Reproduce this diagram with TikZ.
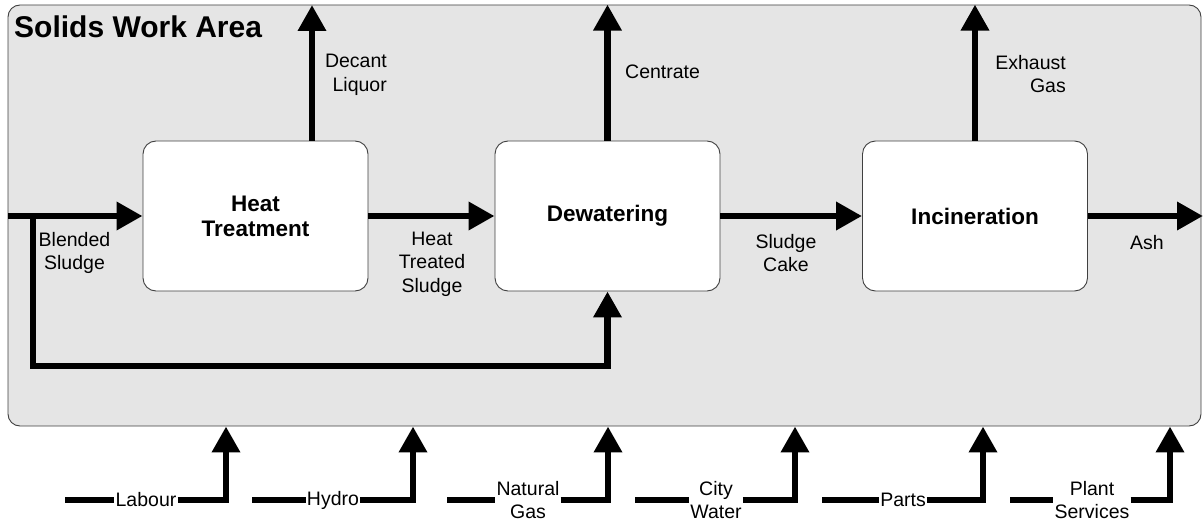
\documentclass[tikz,border=0pt]{standalone}
\usepackage{fontspec}
\setmainfont{Liberation Sans}
\usetikzlibrary{arrows.meta}
\begin{document}
\begin{tikzpicture}[x=1pt,y=-1pt,
  area/.style={draw=black!75, line width=0.9pt, fill=black!10, rounded corners=12pt},
  proc/.style={draw=black!75, line width=0.9pt, fill=white, rounded corners=13pt,
    minimum width=225pt, minimum height=150pt, align=center,
    font=\fontsize{22.5}{25}\selectfont\bfseries},
  flow/.style={line width=6.5pt, miter limit=10, line join=miter,
    -{Triangle[width=27pt,length=26pt]}},
  plain/.style={line width=6.5pt},
  lbl/.style={font=\fontsize{19.5}{23.5}\selectfont, align=center, inner sep=1pt},
  lblr/.style={font=\fontsize{19.5}{23.5}\selectfont, align=right, inner sep=1pt},
]
\useasboundingbox (0,0) rectangle (1203,524);

% work area
\node[area, minimum width=1193pt, minimum height=421pt, inner sep=0pt] (area) at (604.5,215.5) {};
\node[anchor=west, inner sep=0pt, font=\fontsize{30}{33}\selectfont\bfseries] (title) at (14,27) {Solids Work Area};

% process steps
\node[proc] (ht) at (255.5,216) {Heat\\Treatment};
\node[proc] (dw) at (607.5,216) {Dewatering};
\node[proc] (in) at (975,216) {Incineration};

% main flow
\coordinate (bin) at (8,216);
\coordinate (bj) at (33,216);
\coordinate (bl) at (33,366);
\coordinate (ashout) at (1203,216);
\draw[flow] (bin) -- (ht.west);
\draw[flow] (ht.east) -- (dw.west);
\draw[flow] (dw.east) -- (in.west);
\draw[flow] (in.east) -- (ashout);
\draw[flow] (bj) -- (bl) -| (dw.south);

% outputs at the top
\coordinate (dl) at (312,5);
\draw[flow] (ht.north -| dl) -- (dl);
\draw[flow] (dw.north) -- (dw.north |- area.north);
\draw[flow] (in.north) -- (in.north |- area.north);

% stream labels
\node[lbl] (tBl) at (74.5,253) {Blended\\Sludge};
\node[lbl] (tHts) at (432,264) {Heat\\Treated\\Sludge};
\node[lbl] (tSc) at (786,253) {Sludge\\Cake};
\node[lbl] (tAsh) at (1147,243) {Ash};
\node[lblr, anchor=east] (tDl) at (388,75) {Decant\\Liquor};
\node[lbl, anchor=west] (tCe) at (624,72) {Centrate};
\node[lblr, anchor=east] (tEx) at (1067,74) {Exhaust\\Gas};

% resources entering from below
\foreach \n/\xs/\xl/\xa/\txt in {1/65/146/226/Labour, 2/252/333/413/Hydro,
    3/447/528/608/{Natural\\Gas}, 4/635/716/795/{City\\Water},
    5/822/903/983/Parts, 6/1010/1092/1170/{Plant\\Services}} {
  \coordinate (s\n) at (\xs,500);
  \coordinate (c\n) at (\xa,500);
  \node[lbl] (r\n) at (\xl,500) {\txt};
  \draw[plain] (s\n) -- (r\n);
  \draw[flow] (r\n) -- (c\n) -- (c\n |- area.south);
}
\end{tikzpicture}
\end{document}
